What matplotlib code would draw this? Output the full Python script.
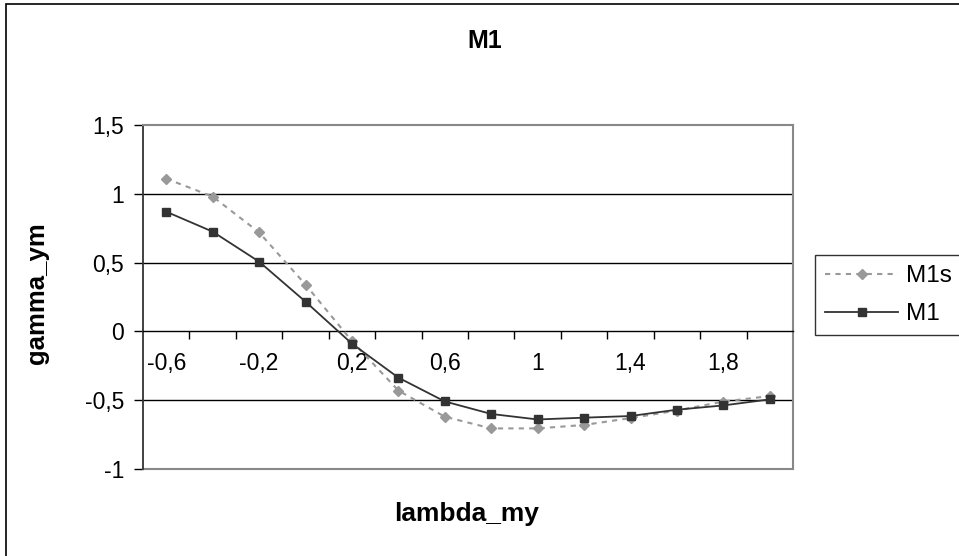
import matplotlib
matplotlib.use("Agg")
import matplotlib.pyplot as plt
from matplotlib.patches import Rectangle
from matplotlib.lines import Line2D

plt.rcParams["font.family"] = ["Liberation Sans", "DejaVu Sans"]

# category axis (Excel-style), every other label shown
lambda_my = ["-0,6", "-0,4", "-0,2", "0", "0,2", "0,4", "0,6",
             "0,8", "1", "1,2", "1,4", "1,6", "1,8", "2"]
m1s = [1.11, 0.98, 0.72, 0.34, -0.07, -0.43, -0.62,
       -0.705, -0.705, -0.68, -0.63, -0.575, -0.51, -0.47]
m1 = [0.87, 0.725, 0.507, 0.216, -0.089, -0.336, -0.509,
      -0.60, -0.64, -0.627, -0.615, -0.569, -0.538, -0.494]
y_ticks = [-1, -0.5, 0, 0.5, 1, 1.5]
y_labels = ["-1", "-0,5", "0", "0,5", "1", "1,5"]

W, H = 959, 556
fig = plt.figure(figsize=(W / 100, H / 100), dpi=100)

# outer chart frame (cropped at right and bottom)
fig.add_artist(Rectangle((6 / W, -0.1), 2.0, (H - 4) / H + 0.1,
                         transform=fig.transFigure, fill=False,
                         ec="black", lw=1.2))

L, R, T, B = 143, 793, 125, 469
ax = fig.add_axes([L / W, (H - B) / H, (R - L) / W, (B - T) / H])

x = list(range(len(lambda_my)))
ax.plot(x, m1s, color="#999999", ls=(0, (2.5, 2.5)), lw=1.5,
        marker="D", ms=5.5, mec="#999999", mfc="#999999", label="M1s", zorder=3)
ax.plot(x, m1, color="#333333", ls="-", lw=1.3,
        marker="s", ms=5.2, mec="#333333", mfc="#333333", label="M1", zorder=4)

ax.set_xlim(-0.5, len(x) - 0.5)
ax.set_ylim(-1, 1.5)

# gridlines
for yv in [-0.5, 0.5, 1]:
    ax.axhline(yv, color="black", lw=1, zorder=1)

for side in ["top", "right"]:
    ax.spines[side].set_color("#888888")
    ax.spines[side].set_linewidth(1.5)
ax.spines["left"].set_color("#333333")
ax.spines["left"].set_linewidth(1.3)
ax.spines["bottom"].set_position(("data", 0))
ax.spines["bottom"].set_color("black")
ax.spines["bottom"].set_linewidth(1)
ax.add_line(Line2D([0, 1], [0, 0], transform=ax.transAxes,
                   color="#888888", lw=1.5, clip_on=False))

ax.set_yticks(y_ticks)
ax.set_yticklabels(y_labels, fontsize=16.5)
ax.tick_params(axis="y", direction="out", length=6.5, width=1, pad=7)

# x: tick marks between categories, labels under every other category
ax.set_xticks([i + 0.5 for i in x[:-1]])
ax.set_xticklabels([])
ax.set_xticks(x[::2], minor=True)
ax.set_xticklabels(lambda_my[::2], minor=True, fontsize=16.5)
ax.tick_params(axis="x", which="major", direction="out", length=6, width=1)
ax.tick_params(axis="x", which="minor", length=0, pad=15)

fig.text(37 / W, 1 - 293 / H, "gamma_ym", fontsize=18.5, fontweight="bold",
         rotation=90, ha="center", va="center")
fig.text(467 / W, 1 - 514 / H, "lambda_my", fontsize=19,
         fontweight="bold", ha="center", va="center")
fig.text(485 / W, 1 - 41 / H, "M1", fontsize=18,
         fontweight="bold", ha="center", va="center")

leg = fig.legend(loc="upper left", bbox_to_anchor=(815 / W, 1 - 255 / H),
                 fontsize=17.5, frameon=True, fancybox=False,
                 handlelength=3.0, handletextpad=0.33, borderpad=0.42,
                 labelspacing=0.65, borderaxespad=0)
leg.get_frame().set_edgecolor("black")
leg.get_frame().set_linewidth(1)

fig.savefig("out.png", dpi=100)
